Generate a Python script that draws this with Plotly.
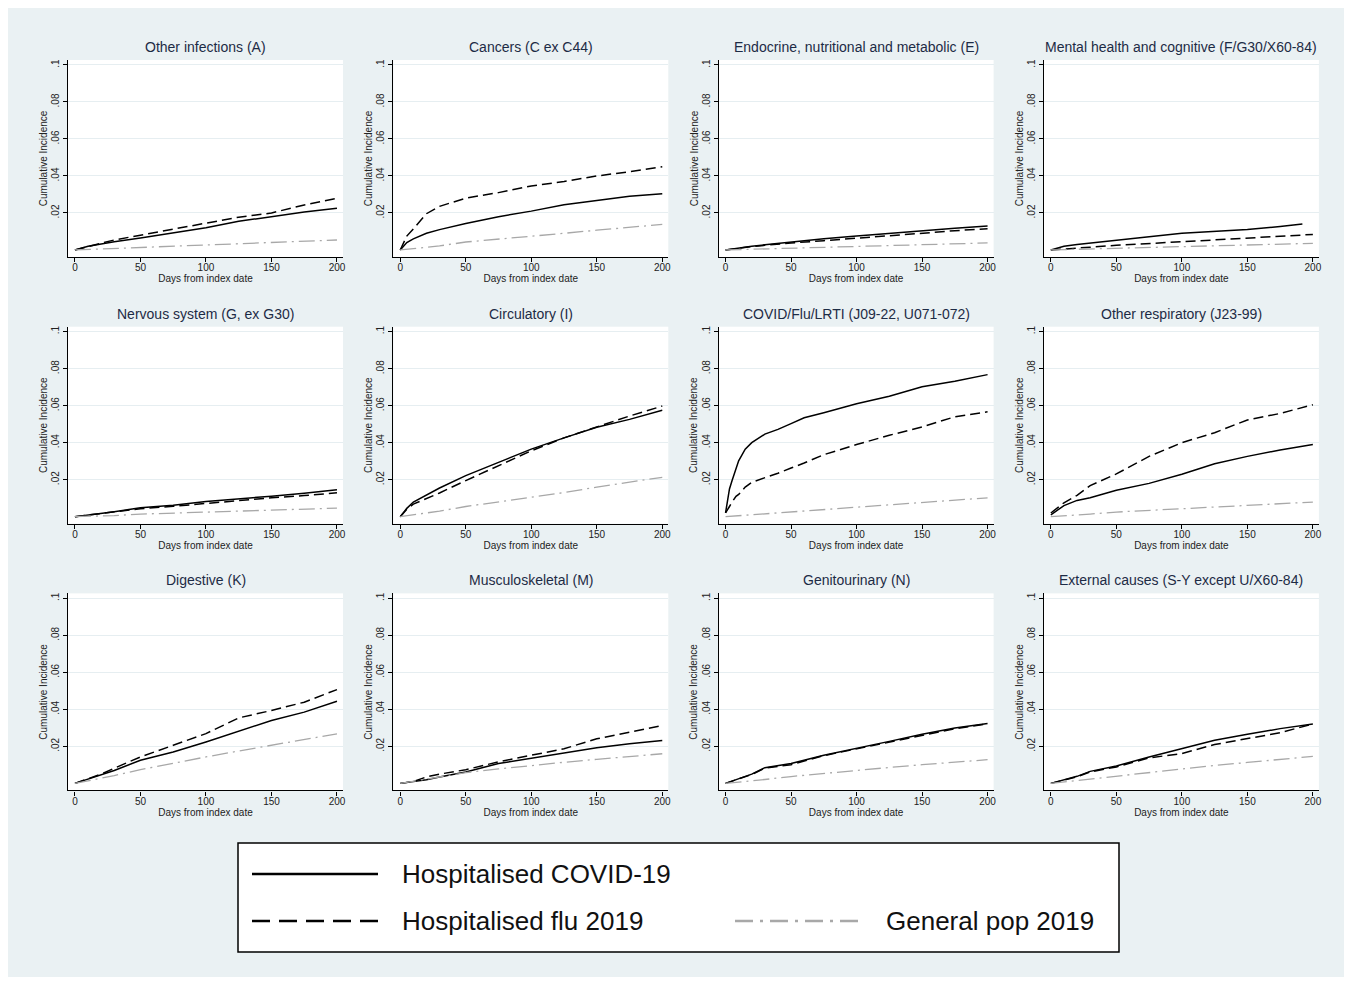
import plotly.graph_objects as go

# ---------------- data ----------------
days = [0, 5, 10, 20, 30, 50, 75, 100, 125, 150, 175, 200]
days_mental_covid = [0, 5, 10, 20, 30, 50, 75, 100, 125, 150, 175, 192]
days_lrti = [0, 1, 2, 3, 5, 8, 10, 15, 20, 30, 40, 50, 60, 75, 100, 125, 150, 175, 200]

titles = ["Other infections (A)", "Cancers (C ex C44)", "Endocrine, nutritional and metabolic (E)",
          "Mental health and cognitive (F/G30/X60-84)", "Nervous system (G, ex G30)", "Circulatory (I)",
          "COVID/Flu/LRTI (J09-22, U071-072)", "Other respiratory (J23-99)", "Digestive (K)",
          "Musculoskeletal (M)", "Genitourinary (N)", "External causes (S-Y except U/X60-84)"]

series_names = ["Hospitalised COVID-19", "Hospitalised flu 2019", "General pop 2019"]

covid_A = [0, 0.001, 0.002, 0.0032, 0.0045, 0.0065, 0.0093, 0.012, 0.0155, 0.018, 0.0205, 0.0225]
flu_A = [0, 0.001, 0.002, 0.0037, 0.0054, 0.0081, 0.0115, 0.0145, 0.0177, 0.020, 0.0243, 0.028]
gen_A = [0, 0.00014, 0.00027, 0.00054, 0.0008, 0.0013, 0.002, 0.0027, 0.0034, 0.004, 0.0047, 0.0054]

covid_C = [0, 0.004, 0.006, 0.009, 0.011, 0.0143, 0.018, 0.021, 0.0245, 0.0266, 0.029, 0.0304]
flu_C = [0, 0.0075, 0.0114, 0.0196, 0.0236, 0.028, 0.031, 0.0346, 0.037, 0.040, 0.0423, 0.045]
gen_C = [0, 0.0004, 0.0008, 0.0015, 0.0022, 0.0043, 0.006, 0.0075, 0.009, 0.0107, 0.0122, 0.0138]

covid_E = [0, 0.0006, 0.0012, 0.002, 0.0028, 0.0043, 0.006, 0.0075, 0.009, 0.0107, 0.0118, 0.0129]
flu_E = [0, 0.0005, 0.001, 0.0018, 0.0025, 0.0038, 0.005, 0.0064, 0.0078, 0.0093, 0.0104, 0.0115]
gen_E = [0, 0.0001, 0.0002, 0.0004, 0.0006, 0.001, 0.0015, 0.002, 0.0025, 0.003, 0.0034, 0.0038]

covid_F = [0, 0.0012, 0.002, 0.003, 0.0038, 0.0055, 0.0072, 0.009, 0.0098, 0.011, 0.0127, 0.0141]
flu_F = [0, 0.0003, 0.0006, 0.001, 0.0015, 0.0025, 0.0034, 0.0043, 0.0053, 0.0064, 0.0074, 0.0084]
gen_F = [0, 0.0001, 0.0002, 0.0003, 0.0004, 0.0007, 0.0012, 0.0016, 0.0022, 0.0026, 0.0031, 0.0036]

covid_G = [0, 0.0004, 0.0009, 0.0018, 0.0027, 0.0048, 0.0062, 0.0082, 0.0095, 0.0111, 0.0126, 0.0145]
flu_G = [0, 0.0004, 0.0008, 0.0016, 0.0024, 0.0043, 0.0056, 0.0072, 0.0085, 0.0102, 0.0114, 0.0129]
gen_G = [0, 0.0001, 0.0002, 0.0004, 0.0006, 0.0014, 0.0019, 0.0025, 0.0031, 0.0036, 0.0041, 0.0046]

covid_I = [0, 0.0045, 0.0079, 0.0117, 0.0155, 0.0222, 0.0293, 0.0365, 0.0426, 0.0483, 0.0526, 0.0575]
flu_I = [0, 0.004, 0.0068, 0.0098, 0.0128, 0.0195, 0.0276, 0.0356, 0.0426, 0.0487, 0.0544, 0.0598]
gen_I = [0, 0.0005, 0.001, 0.002, 0.003, 0.0055, 0.008, 0.0106, 0.013, 0.016, 0.0185, 0.0213]

covid_J09 = [0.002, 0.006, 0.0115, 0.015, 0.0195, 0.026, 0.0302, 0.0365, 0.040, 0.0446, 0.0472, 0.0503,
             0.0535, 0.0562, 0.061, 0.0651, 0.0702, 0.0732, 0.0768]
flu_J09 = [0.002, 0.003, 0.004, 0.0055, 0.0079, 0.011, 0.012, 0.016, 0.0186, 0.021, 0.0235, 0.0263,
           0.029, 0.0335, 0.039, 0.044, 0.0485, 0.054, 0.0567]
gen_J09 = [0, 0.00025, 0.0005, 0.001, 0.0015, 0.0026, 0.0039, 0.0052, 0.0064, 0.0077, 0.009, 0.0102]

covid_J23 = [0.001, 0.0034, 0.006, 0.0088, 0.0102, 0.0143, 0.018, 0.0229, 0.0286, 0.0326, 0.0361, 0.039]
flu_J23 = [0.002, 0.005, 0.0075, 0.0115, 0.0168, 0.0231, 0.0326, 0.040, 0.0454, 0.0523, 0.0558, 0.0605]
gen_J23 = [0, 0.0003, 0.0005, 0.001, 0.0014, 0.0025, 0.0034, 0.0043, 0.0052, 0.006, 0.007, 0.0079]

covid_K = [0, 0.0012, 0.0025, 0.0048, 0.007, 0.0125, 0.017, 0.0224, 0.028, 0.034, 0.0385, 0.0444]
flu_K = [0, 0.0013, 0.0026, 0.005, 0.0082, 0.0143, 0.0206, 0.0269, 0.0354, 0.0394, 0.0439, 0.0507]
gen_K = [0, 0.0007, 0.0014, 0.0028, 0.0042, 0.0074, 0.011, 0.0143, 0.0175, 0.0205, 0.0237, 0.0268]

covid_M = [0, 0.0005, 0.001, 0.002, 0.0035, 0.0062, 0.0107, 0.0137, 0.0164, 0.0193, 0.0214, 0.0232]
flu_M = [0, 0.0005, 0.001, 0.0035, 0.005, 0.0074, 0.0116, 0.0152, 0.0187, 0.0241, 0.0277, 0.0313]
gen_M = [0, 0.0006, 0.0012, 0.0024, 0.0035, 0.0058, 0.0078, 0.0098, 0.0114, 0.013, 0.0145, 0.016]

covid_N = [0, 0.0013, 0.0026, 0.005, 0.0085, 0.0107, 0.0152, 0.0188, 0.0227, 0.0265, 0.0299, 0.0324]
flu_N = [0, 0.0012, 0.0024, 0.0048, 0.0082, 0.0101, 0.015, 0.0186, 0.0225, 0.026, 0.0295, 0.0322]
gen_N = [0, 0.0003, 0.0007, 0.0014, 0.0021, 0.0037, 0.0054, 0.0071, 0.0086, 0.0101, 0.0115, 0.0128]

covid_SY = [0, 0.001, 0.002, 0.0038, 0.0065, 0.0094, 0.0143, 0.0188, 0.0233, 0.0265, 0.0296, 0.0321]
flu_SY = [0, 0.001, 0.002, 0.0036, 0.0062, 0.0089, 0.0138, 0.0161, 0.021, 0.0242, 0.0274, 0.0321]
gen_SY = [0, 0.0004, 0.0008, 0.0016, 0.0024, 0.004, 0.006, 0.008, 0.0097, 0.0113, 0.013, 0.0146]

y_tickvals = [0.02, 0.04, 0.06, 0.08, 0.1]
y_ticktext = [".02", ".04", ".06", ".08", ".1"]
x_tickvals = [0, 50, 100, 150, 200]

panels = [
    ((days, covid_A), (days, flu_A), (days, gen_A)),
    ((days, covid_C), (days, flu_C), (days, gen_C)),
    ((days, covid_E), (days, flu_E), (days, gen_E)),
    ((days_mental_covid, covid_F), (days, flu_F), (days, gen_F)),
    ((days, covid_G), (days, flu_G), (days, gen_G)),
    ((days, covid_I), (days, flu_I), (days, gen_I)),
    ((days_lrti, covid_J09), (days_lrti, flu_J09), (days, gen_J09)),
    ((days, covid_J23), (days, flu_J23), (days, gen_J23)),
    ((days, covid_K), (days, flu_K), (days, gen_K)),
    ((days, covid_M), (days, flu_M), (days, gen_M)),
    ((days, covid_N), (days, flu_N), (days, gen_N)),
    ((days, covid_SY), (days, flu_SY), (days, gen_SY)),
]

# ---------------- styling ----------------
OFF = 8  # page body margin
W, H = 1352 - OFF, 981 - OFF


def px(x):
    return (x - OFF) / W


def py(y):
    return 1 - (y - OFF) / H


BG = "#eaf1f3"
GRID = "#e6eef1"
FONT = "Liberation Sans, Arial, sans-serif"
TITLE_COLOR = "#1d2b45"
styles = [
    dict(color="#000000", width=1.5, dash="solid"),
    dict(color="#000000", width=1.5, dash="10px,5px"),
    dict(color="#a8a8a8", width=1.3, dash="16px,5px,2px,5px"),
]

fig = go.Figure()
layout = dict(
    width=W, height=H, autosize=False,
    margin=dict(l=0, r=0, t=0, b=0),
    paper_bgcolor=BG, plot_bgcolor="white",
    template="none", showlegend=False,
    font=dict(family=FONT, color="#222"),
)
annotations = []
shapes = []

for i, (title, series) in enumerate(zip(titles, panels)):
    r, c = divmod(i, 4)
    x0 = 68 + 325.3 * c
    x1 = 343 + 325.3 * c
    top = 60 + 266.7 * r
    bot = 257 + 266.7 * r
    idx = "" if i == 0 else str(i + 1)
    xa, ya = "x" + idx, "y" + idx
    layout["xaxis" + idx] = dict(
        domain=[px(x0), px(x1)], anchor=ya, range=[-5.3, 204.6],
        tickvals=x_tickvals, ticks="outside", ticklen=4, tickcolor="#000", tickwidth=1,
        ticklabelstandoff=-3,
        showline=True, linecolor="#000", linewidth=1.2, showgrid=False, zeroline=False,
        tickfont=dict(size=10, family=FONT, color="#222"),
        title=dict(text="Days from index date", font=dict(size=10, family=FONT, color="#222"), standoff=0),
        automargin=False, fixedrange=True,
    )
    layout["yaxis" + idx] = dict(
        domain=[py(bot), py(top)], anchor=xa, range=[-0.0038, 0.1027],
        tickvals=y_tickvals, ticktext=y_ticktext, tickangle=-90,
        ticks="outside", ticklen=4, tickcolor="#000", tickwidth=1,
        showline=True, linecolor="#000", linewidth=1.2,
        showgrid=True, gridcolor=GRID, gridwidth=1, zeroline=False,
        tickfont=dict(size=10, family=FONT, color="#222"),
        title=dict(text="Cumulative Incidence", font=dict(size=10, family=FONT, color="#222"), standoff=0),
        automargin=False, fixedrange=True,
    )
    for (xs, ys), st, name in zip(series, styles, series_names):
        fig.add_trace(go.Scatter(x=xs, y=ys, mode="lines", name=name, line=st,
                                 xaxis=xa, yaxis=ya, showlegend=False))
    annotations.append(dict(
        text=title, xref="paper", yref="paper", x=px((x0 + x1) / 2), y=py(47 + 266.7 * r),
        xanchor="center", yanchor="middle", showarrow=False,
        font=dict(size=14, family=FONT, color=TITLE_COLOR)))

# white outer border (right and bottom; top/left come from page margin)
shapes.append(dict(type="rect", xref="paper", yref="paper", x0=px(1345), x1=1,
                   y0=0, y1=1, fillcolor="white", line=dict(width=0), layer="below"))
shapes.append(dict(type="rect", xref="paper", yref="paper", x0=0, x1=1,
                   y0=0, y1=py(977), fillcolor="white", line=dict(width=0), layer="below"))

# legend box
shapes.append(dict(type="rect", xref="paper", yref="paper", x0=px(238), x1=px(1119),
                   y0=py(952), y1=py(843), fillcolor="white",
                   line=dict(color="#000", width=1.5)))
leg_items = [
    (252, 378, 874, dict(color="#000", width=2.5, dash="solid"), 400, series_names[0]),
    (252, 378, 921, dict(color="#000", width=2.5, dash="18px,9px"), 400, series_names[1]),
    (735, 862, 921, dict(color="#a8a8a8", width=2.5, dash="18px,7px,3px,7px"), 884, series_names[2]),
]
for lx0, lx1, ly, ln, tx, txt in leg_items:
    shapes.append(dict(type="line", xref="paper", yref="paper", x0=px(lx0), x1=px(lx1),
                       y0=py(ly), y1=py(ly), line=ln))
    annotations.append(dict(text=txt, xref="paper", yref="paper", x=px(tx), y=py(ly),
                            xanchor="left", yanchor="middle", showarrow=False,
                            font=dict(size=26, family=FONT, color="#111")))

layout["annotations"] = annotations
layout["shapes"] = shapes
fig.update_layout(**layout)
fig.write_html("out.html")
